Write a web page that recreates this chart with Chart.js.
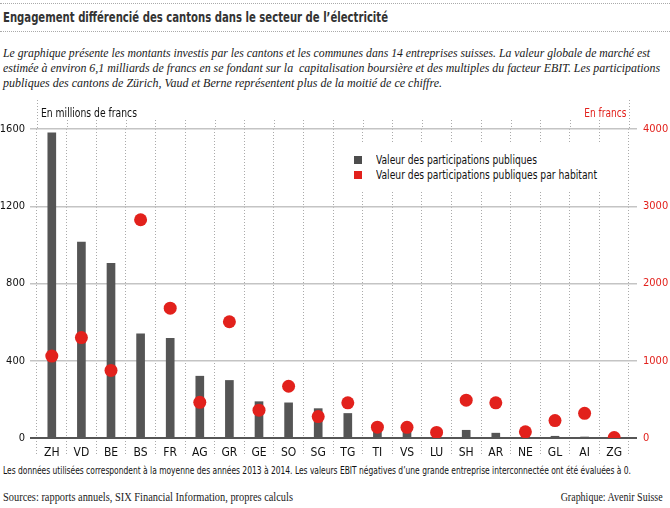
<!DOCTYPE html>
<html>
<head>
<meta charset="utf-8">
<script src="https://cdn.jsdelivr.net/npm/chart.js"></script>
<style>
  body { margin: 0; background: #fff; }
  #wrap { position: relative; width: 670px; height: 508px; overflow: hidden; }
  .cond { font-family: 'DejaVu Sans Condensed', 'Liberation Sans', sans-serif; }
  .serif { font-family: 'Liberation Serif', 'DejaVu Serif', serif; }
  .abs { position: absolute; white-space: nowrap; }
  .line { position: absolute; left: 0; width: 670px; height: 0; border-top: 1px dotted #aaa; }
  .it { font-style: italic; font-size: 13.5px; line-height: 16px; color: #1a1a1a; left: 3px; }
  #legend { left: 342px; top: 143px; width: 284px; height: 47px; background: #fff; }
  .sq { position: absolute; width: 8px; height: 8px; }
  canvas { position: absolute; left: 0; top: 100px; }
</style>
</head>
<body>
<div id="wrap">
  <div class="line" style="top:3px"></div>
  <div class="abs cond" data-w="385" style="left:3px;top:9px;font-size:14px;line-height:16px;font-weight:bold;color:#333;">Engagement différencié des cantons dans le secteur de l’électricité</div>
  <div class="line" style="top:31px"></div>
  <div class="abs serif it" data-w="647" style="top:45px">Le graphique présente les montants investis par les cantons et les communes dans 14 entreprises suisses. La valeur globale de marché est</div>
  <div class="abs serif it" data-w="657" style="top:60px">estimée à environ 6,1 milliards de francs en se fondant sur la&nbsp; capitalisation boursière et des multiples du facteur EBIT. Les participations</div>
  <div class="abs serif it" data-w="439" style="top:75px">publiques des cantons de Zürich, Vaud et Berne représentent plus de la moitié de ce chiffre.</div>
  <canvas id="myChart" width="670" height="362"></canvas>
  <div class="abs cond" data-w="96" style="left:41px;top:106px;font-size:12px;line-height:14px;color:#111;">En millions de francs</div>
  <div class="abs cond" data-w="42" data-r="1" style="right:44px;top:106px;font-size:12px;line-height:14px;color:#e2211c;">En francs</div>
  <div id="legend" class="abs"></div>
  <div class="sq" style="left:354px;top:156px;background:#4d4d4d"></div>
  <div class="sq" style="left:354px;top:171px;background:#e2211c"></div>
  <div class="abs cond" data-w="161" style="left:376px;top:153px;font-size:12px;line-height:14px;color:#111;">Valeur des participations publiques</div>
  <div class="abs cond" data-w="221" style="left:376px;top:168px;font-size:12px;line-height:14px;color:#111;">Valeur des participations publiques par habitant</div>
  <div class="abs cond" data-w="628" style="left:3px;top:464px;font-size:11px;line-height:14px;color:#111;">Les données utilisées correspondent à la moyenne des années 2013 à 2014. Les valeurs EBIT négatives d’une grande entreprise interconnectée ont été évaluées à 0.</div>
  <div class="abs serif" data-w="290" style="left:3px;top:489px;font-size:13px;line-height:16px;color:#1a1a1a;">Sources: rapports annuels, SIX Financial Information, propres calculs</div>
  <div class="abs serif" data-w="102" data-r="1" style="right:7px;top:489px;font-size:13px;line-height:16px;color:#1a1a1a;">Graphique: Avenir Suisse</div>
</div>
<script>
var cantons = ["ZH", "VD", "BE", "BS", "FR", "AG", "GR", "GE", "SO", "SG", "TG", "TI", "VS", "LU", "SH", "AR", "NE", "GL", "AI", "ZG"];
// millions de francs
var valeur = [1580, 1015, 905, 540, 516, 320, 298, 188, 182, 152, 127, 36, 36, 12, 40, 25, 6, 9, 4, 0];
// francs par habitant
var parHabitant = [1060, 1300, 875, 2825, 1680, 462, 1505, 360, 670, 277, 455, 140, 138, 72, 490, 455, 80, 225, 320, 5];
var ticksGauche = [0, 400, 800, 1200, 1600];
var ticksDroite = [0, 1000, 2000, 3000, 4000];

var condFont = "'DejaVu Sans Condensed', 'Liberation Sans', sans-serif";
var rouge = "#e2211c";

// texte étroit : on resserre chaque ligne à la largeur de l'original
document.querySelectorAll("[data-w]").forEach(function (el) {
  var w = el.getBoundingClientRect().width;
  el.style.transformOrigin = el.dataset.r ? "right center" : "left center";
  el.style.transform = "scaleX(" + (el.dataset.w / w) + ")";
});

// prolonge les lignes pointillées verticales au-dessus du graphique
var extraLines = {
  id: "extraLines",
  beforeDatasetsDraw(chart) {
    const ctx = chart.ctx;
    const area = chart.chartArea;
    const step = (area.right - area.left) / cantons.length;
    ctx.save();
    ctx.strokeStyle = "#aaa";
    ctx.lineWidth = 1;
    ctx.setLineDash([1, 2]);
    for (let i = 0; i <= cantons.length; i++) {
      const px = Math.round(area.left + i * step) + 0.5;
      const top = (i === 0 || i === cantons.length) ? 0 : area.top - 9;
      ctx.beginPath();
      ctx.moveTo(px, top);
      ctx.lineTo(px, area.top);
      ctx.stroke();
    }
    ctx.restore();
  }
};

var tickCol = c => (c.tick && c.tick.value === 0 ? "#555" : "#c4c4c4");
var tickW = c => (c.tick && c.tick.value === 0 ? 2 : 1.5);

new Chart(document.getElementById("myChart"), {
  type: "bar",
  data: {
    labels: cantons,
    datasets: [
      {
        type: "line",
        label: "Valeur des participations publiques par habitant",
        data: parHabitant,
        yAxisID: "y1",
        showLine: false,
        pointRadius: 6.5,
        pointBackgroundColor: rouge,
        pointBorderWidth: 0,
        order: 1,
      },
      {
        label: "Valeur des participations publiques",
        data: valeur,
        yAxisID: "y",
        backgroundColor: "#555555",
        barThickness: 8,
        order: 2,
      },
    ],
  },
  options: {
    responsive: false,
    animation: false,
    layout: { padding: { top: 29, left: 0, right: 0, bottom: 0 } },
    plugins: { legend: { display: false }, tooltip: { enabled: false } },
    scales: {
      x: {
        offset: true,
        afterFit(scale) { scale.height = 24; },
        grid: { offset: true, color: "#aaa", lineWidth: 1, tickLength: 18, tickColor: "#aaa", tickBorderDash: [1, 2] },
        border: { display: false, dash: [1, 2] },
        ticks: { padding: -10, color: "#111", font: { family: condFont, size: 12 } },
      },
      y: {
        min: 0,
        max: 1600,
        afterFit(scale) { scale.width = 37; },
        afterBuildTicks(scale) { scale.ticks = ticksGauche.map(v => ({ value: v })); },
        grid: { color: tickCol, tickColor: tickCol, lineWidth: tickW, tickLength: 7 },
        border: { display: false },
        ticks: { padding: 5, color: "#111", font: { family: condFont, size: 11 }, callback: v => String(v) },
      },
      y1: {
        position: "right",
        min: 0,
        max: 4000,
        afterFit(scale) { scale.width = 41; },
        afterBuildTicks(scale) { scale.ticks = ticksDroite.map(v => ({ value: v })); },
        grid: { drawOnChartArea: false, tickColor: tickCol, lineWidth: tickW, tickLength: 8 },
        border: { display: false },
        ticks: { padding: 6, color: rouge, font: { family: condFont, size: 11 }, callback: v => String(v) },
      },
    },
  },
  plugins: [extraLines],
});
</script>
</body>
</html>
